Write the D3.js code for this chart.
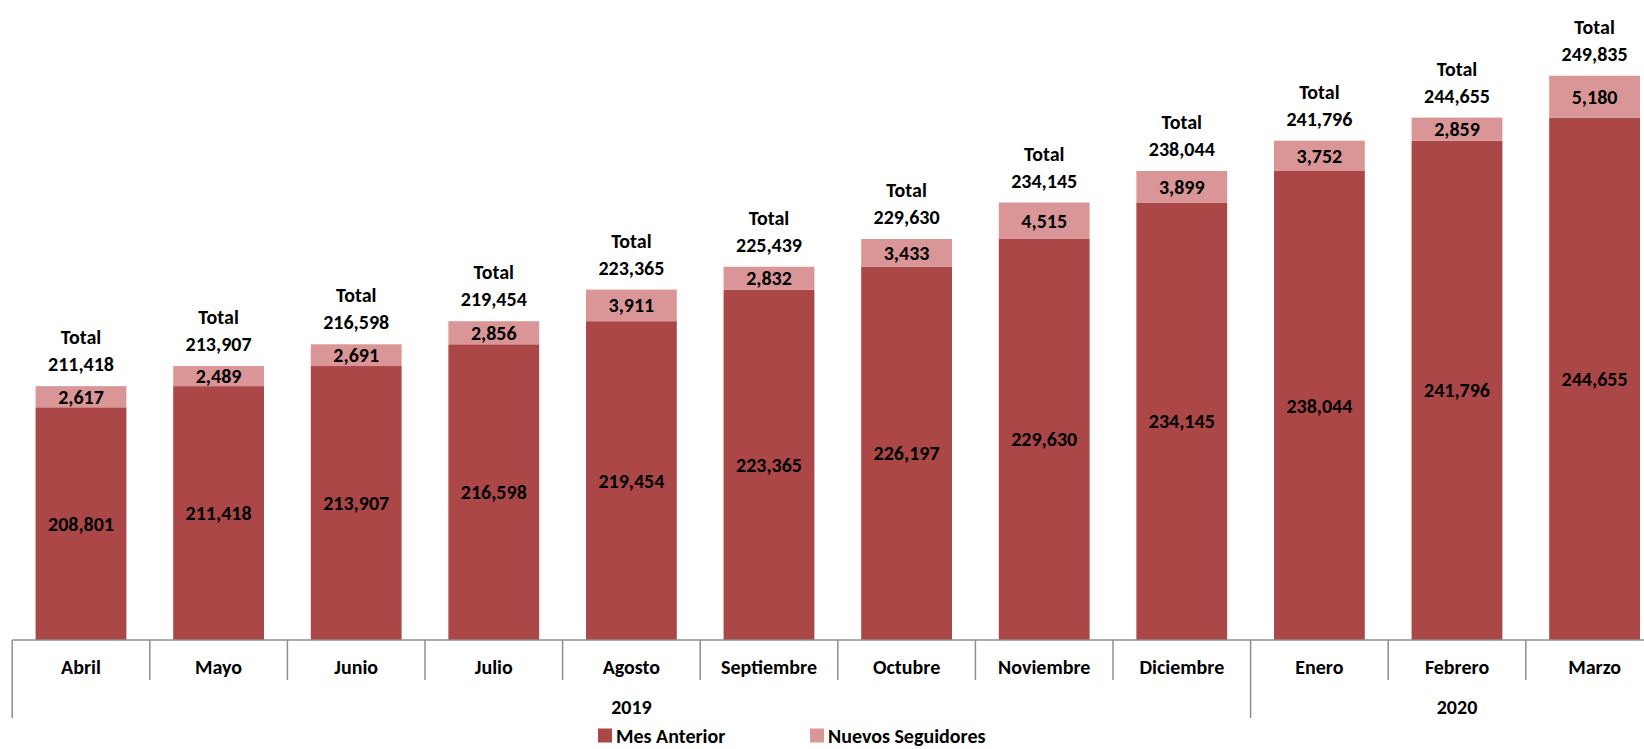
<!DOCTYPE html>
<html>
<head>
<meta charset="utf-8">
<script src="https://cdn.jsdelivr.net/npm/d3@7"></script>
<style>
  html, body { margin: 0; padding: 0; background: #fff; overflow: hidden; }
  svg { display: block; }
  text { font-family: Carlito, Lato, "Open Sans", sans-serif; fill: #000; }
</style>
</head>
<body>
<svg id="chart" width="1644" height="749"></svg>
<script>
const months = ["Abril","Mayo","Junio","Julio","Agosto","Septiembre","Octubre","Noviembre","Diciembre","Enero","Febrero","Marzo"];
const monthYear = ["2019","2019","2019","2019","2019","2019","2019","2019","2019","2020","2020","2020"];
const years = ["2019","2020"];
const mesAnterior = [208801,211418,213907,216598,219454,223365,226197,229630,234145,238044,241796,244655];
const nuevosSeguidores = [2617,2489,2691,2856,3911,2832,3433,4515,3899,3752,2859,5180];
const totalLabels = [211418,213907,216598,219454,223365,225439,229630,234145,238044,241796,244655,249835];
const seriesNames = ["Mes Anterior","Nuevos Seguidores"];
const colors = ["#AB4747","#DA9696"];

const svg = d3.select("#chart");
const baseY = 640;
const yMin = 180000;
const fs = 20;
const x = d3.scaleBand().domain(months).range([12.2, 12.2 + 12 * 137.6]).paddingInner(0.34).paddingOuter(0.17);
const y = d3.scaleLinear().domain([yMin, 255000]).range([baseY, baseY - 75000 * 0.00808]);
const fmt = d3.format(",");

const rows = months.map((m, i) => ({ month: m, "Mes Anterior": mesAnterior[i], "Nuevos Seguidores": nuevosSeguidores[i], total: totalLabels[i] }));
const stacked = d3.stack().keys(seriesNames)(rows);

const g = svg.append("g");
stacked.forEach((s, si) => {
  g.selectAll(null).data(s).enter().append("rect")
    .attr("x", d => x(d.data.month))
    .attr("width", x.bandwidth())
    .attr("y", d => y(Math.max(d[1], yMin)))
    .attr("height", d => y(Math.max(d[0], yMin)) - y(Math.max(d[1], yMin)))
    .attr("fill", colors[si]);
  g.selectAll(null).data(s).enter().append("text")
    .attr("x", d => x(d.data.month) + x.bandwidth() / 2)
    .attr("y", d => (y(Math.max(d[0], yMin)) + y(d[1])) / 2)
    .attr("dy", "0.35em")
    .attr("text-anchor", "middle")
    .attr("font-size", fs).attr("font-weight", "bold")
    .text(d => fmt(d[1] - d[0]));
});

// Total labels
const topSeries = stacked[1];
const tl = g.selectAll(null).data(topSeries).enter().append("text")
  .attr("text-anchor", "middle")
  .attr("font-size", fs).attr("font-weight", "bold");
tl.append("tspan")
  .attr("x", d => x(d.data.month) + x.bandwidth() / 2)
  .attr("y", d => y(d[1]) - 42)
  .text("Total");
tl.append("tspan")
  .attr("x", d => x(d.data.month) + x.bandwidth() / 2)
  .attr("y", d => y(d[1]) - 15)
  .text(d => fmt(d.data.total));

// Axis
const axisColor = "#8f8f8f";
const axis = d3.axisBottom(x).tickSize(0).tickPadding(20);
const ax = svg.append("g").attr("transform", `translate(0,${baseY})`).call(axis);
ax.select(".domain").remove();
ax.selectAll("text").attr("font-size", fs).attr("font-weight", "bold")
  .attr("font-family", "Carlito, Lato, sans-serif").attr("fill", "#000").attr("dy", "0.35em").attr("y", 27);

const [r0, r1] = x.range();
svg.append("line").attr("x1", r0).attr("x2", r1).attr("y1", baseY).attr("y2", baseY)
  .attr("stroke", axisColor).attr("stroke-width", 1.5);
// month separators
const seps = d3.range(0, months.length + 1).map(i => r0 + i * x.step());
svg.selectAll(null).data(seps).enter().append("line")
  .attr("x1", d => d).attr("x2", d => d)
  .attr("y1", baseY)
  .attr("y2", (d, i) => (i === 0 || i === months.length || monthYear[i] !== monthYear[i - 1]) ? 718 : 680)
  .attr("stroke", axisColor).attr("stroke-width", 1.5);

// Year labels
years.forEach(yr => {
  const idx = months.map((m, i) => i).filter(i => monthYear[i] === yr);
  const a = r0 + idx[0] * x.step();
  const b = r0 + (idx[idx.length - 1] + 1) * x.step();
  svg.append("text").attr("x", (a + b) / 2).attr("y", 706.5).attr("dy", "0.35em")
    .attr("text-anchor", "middle").attr("font-size", fs).attr("font-weight", "bold").text(yr);
});

// Legend
const legendX = [598, 810];
const lg = svg.append("g");
seriesNames.forEach((n, i) => {
  lg.append("rect").attr("x", legendX[i]).attr("y", 728.5).attr("width", 14).attr("height", 14).attr("fill", colors[i]);
  lg.append("text").attr("x", legendX[i] + 18).attr("y", 735.5).attr("dy", "0.35em")
    .attr("font-size", fs).attr("font-weight", "bold").text(n);
});
</script>
</body>
</html>
